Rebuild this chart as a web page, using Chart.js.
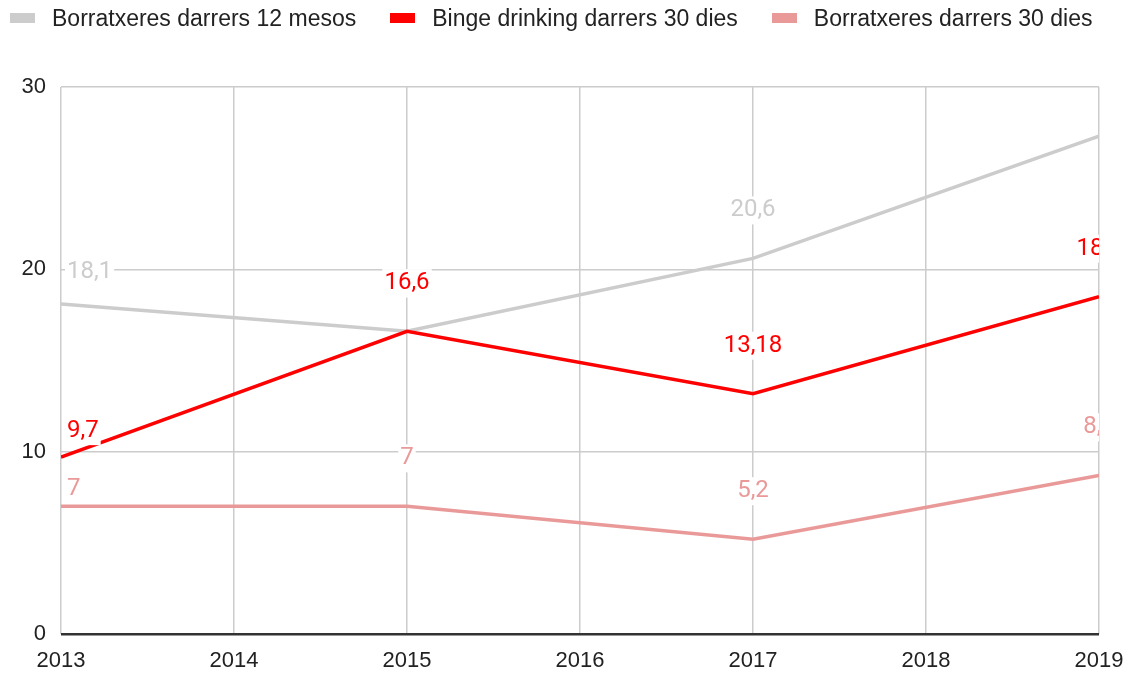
<!DOCTYPE html>
<html>
<head>
<meta charset="utf-8">
<script src="https://cdn.jsdelivr.net/npm/chart.js@4"></script>
<style>
    html, body { margin: 0; padding: 0; background: #fff; }
    #wrap { position: relative; width: 1129px; height: 673px; }
    #legend {
        position: absolute; left: 10px; top: 4px; height: 28px;
        display: flex; align-items: center; gap: 34px;
        font-family: "Liberation Sans", Arial, sans-serif; font-size: 23px; color: #222;
    }
    .item { display: flex; align-items: center; gap: 17px; }
    .box { width: 25px; height: 10px; }
</style>
</head>
<body>
<div id="wrap">
    <div id="legend"></div>
    <canvas id="chart" width="1129" height="673"></canvas>
</div>
<script>
// Data
const years = [2013, 2015, 2017, 2019];
const seriesNames = ['Borratxeres darrers 12 mesos', 'Binge drinking darrers 30 dies', 'Borratxeres darrers 30 dies'];
const borratxeres12m = [18.1, 16.6, 20.6, 27.3];
const binge30d = [9.7, 16.6, 13.18, 18.5];
const borratxeres30d = [7, 7, 5.2, 8.7];
const yTicks = [0, 10, 20, 30];
const xTicks = [2013, 2014, 2015, 2016, 2017, 2018, 2019];

const colors = ['#cccccc', '#ff0000', '#ea9999'];
// label offset above first point (px), the rest sit ~48px above
const firstOffsets = [32, 26, 17];

const toPoints = vals => vals.map((v, i) => ({ x: years[i], y: v }));

// HTML legend
const legend = document.getElementById('legend');
legend.innerHTML = seriesNames.map((n, i) => `
    <div class="item"><div class="box" style="background:${colors[i]}"></div><span>${n}</span></div>
`).join('');

// Point labels with white backing
const pointLabels = {
    id: 'pointLabels',
    afterDatasetsDraw(chart) {
        const { ctx, chartArea } = chart;
        ctx.save();
        ctx.beginPath();
        ctx.rect(chartArea.left, 0, chartArea.right - chartArea.left, chart.height);
        ctx.clip();
        ctx.font = '24px Roboto, sans-serif';
        ctx.textBaseline = 'middle';
        chart.data.datasets.forEach((ds, di) => {
            const meta = chart.getDatasetMeta(di);
            meta.data.forEach((pt, i) => {
                const text = String(ds.data[i].y).replace('.', ',');
                const w = ctx.measureText(text).width;
                let x = pt.x, y;
                if (i === 0) {
                    x = pt.x + 6 + w / 2;
                    y = pt.y - firstOffsets[di];
                } else {
                    y = pt.y - 48;
                }
                if (y - 14 < chartArea.top) return;
                ctx.fillStyle = '#fff';
                ctx.fillRect(x - w / 2 - 2, y - 14, w + 4, 28);
                ctx.fillStyle = colors[di];
                ctx.textAlign = 'center';
                ctx.fillText(text, x, y);
            });
        });
        ctx.restore();
    }
};

const tickFont = { family: '"Liberation Sans", Arial, sans-serif', size: 22 };

new Chart(document.getElementById('chart'), {
    type: 'line',
    data: {
        datasets: [borratxeres12m, binge30d, borratxeres30d].map((vals, i) => ({
            label: seriesNames[i],
            data: toPoints(vals),
            borderColor: colors[i],
            backgroundColor: colors[i],
            borderWidth: 3.5,
            pointRadius: 0,
            tension: 0,
            order: 3 - i
        }))
    },
    options: {
        responsive: false,
        animation: false,
        layout: { padding: { top: 87, right: 30, left: 0, bottom: 0 } },
        plugins: { legend: { display: false }, tooltip: { enabled: false } },
        scales: {
            x: {
                type: 'linear',
                min: 2013,
                max: 2019,
                afterBuildTicks: s => { s.ticks = xTicks.map(v => ({ value: v })); },
                afterFit: s => { s.height = 39; s.paddingLeft = 0; s.paddingRight = 0; },
                grid: { color: '#cccccc', lineWidth: 1.5, drawTicks: false },
                border: { display: false },
                ticks: { font: tickFont, color: '#222', padding: 14, callback: v => String(v) }
            },
            y: {
                min: 0,
                max: 30,
                afterBuildTicks: s => { s.ticks = yTicks.map(v => ({ value: v })); },
                afterFit: s => { s.width = 61; s.paddingTop = 0; s.paddingBottom = 0; },
                grid: {
                    color: c => c.tick.value === 0 ? '#333333' : '#cccccc',
                    lineWidth: c => c.tick.value === 0 ? 2.5 : 1.5,
                    drawTicks: false
                },
                border: { display: false },
                ticks: { font: tickFont, color: '#222', padding: 15 }
            }
        }
    },
    plugins: [pointLabels]
});
</script>
</body>
</html>
